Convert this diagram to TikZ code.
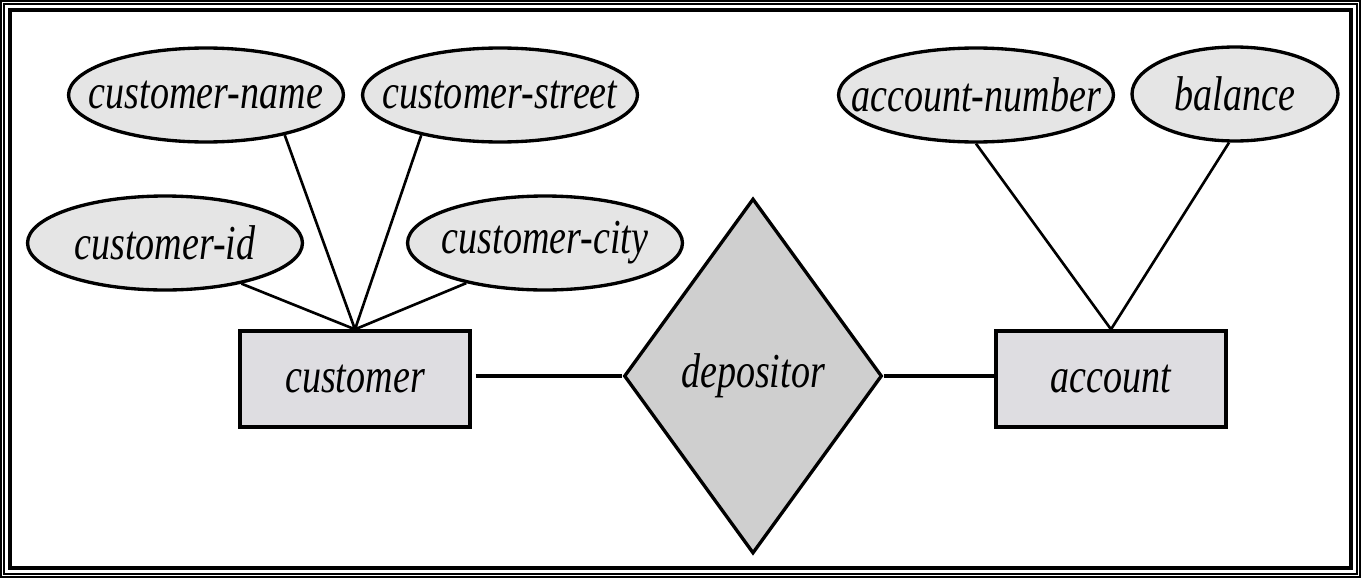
\documentclass[tikz,border=0pt]{standalone}
\usepackage{fontspec}
\newfontfamily\erfont{Liberation Serif}[FakeStretch=0.78]
\usetikzlibrary{shapes.geometric}
\definecolor{attrgray}{gray}{0.90}
\definecolor{entgray}{RGB}{222,221,225}
\definecolor{relgray}{gray}{0.81}
\tikzset{
  % style for the attribute ovals
  attribute/.style={
    draw, ellipse, fill=attrgray, line width=1.9pt,
    minimum width=5.5cm, minimum height=1.88cm, inner sep=0pt
  },
  % style for the entity sets
  entity/.style={
    draw, rectangle, fill=entgray, line width=1.9pt,
    minimum width=4.6cm, minimum height=1.92cm
  },
  % style for the relationship set
  relationship/.style={
    draw, diamond, fill=relgray, line width=1.9pt,
    minimum width=5.16cm, minimum height=7.1cm, inner sep=0pt
  },
  attrline/.style={draw, line width=1.5pt},
  relline/.style={draw, line width=2.7pt},
}

\begin{document}
\begin{tikzpicture}[x=0.02cm,y=-0.02cm,
    font=\erfont\itshape\fontsize{27.8pt}{33pt}\selectfont]
            \useasboundingbox (0,0) rectangle (1361,578);
            % frame
            \draw[line width=1.13pt] (1,1) rectangle (1360,577);
            \draw[line width=1.13pt] (4,4) rectangle (1357,574);
            \draw[line width=2.27pt] (10,10) rectangle (1351,568);

            \node[entity] (C) at (355,379) {customer};
            \node[relationship] (D) at (753,376) {depositor};
            \node[entity] (A) at (1111,379) {account};

            \node[attribute,label=center:{customer-name}] (CN) at (206,95) {};
            \node[attribute,label=center:{customer-street}] (CS) at (500,95) {};
            \node[attribute,label=center:{customer-id}] (CI) at (165,243) {};
            \node[attribute,label=center:{customer-city}] (CC) at (545,243) {};
            \node[attribute,label=center:{account-number}] (AN) at (976,95) {};
            \node[attribute,minimum width=4.12cm,
                  label=center:{balance}] (AB) at (1235,94) {};

            \path [attrline]
            (CN.-27) -- (C.north)%
            (CS.207) -- (C.north)%
            (CI.-28) -- (C.north)%
            (CC.207) -- (C.north)%
            (AN.south) -- (A.north)%
            (AB.-97) -- (A.north)%
            ;
            \path [relline,shorten <=2.3pt] (C.east |- D.west) -- (D.west);
            \path [relline] (D.east) -- (A.west |- D.east);
        \end{tikzpicture}
\end{document}
